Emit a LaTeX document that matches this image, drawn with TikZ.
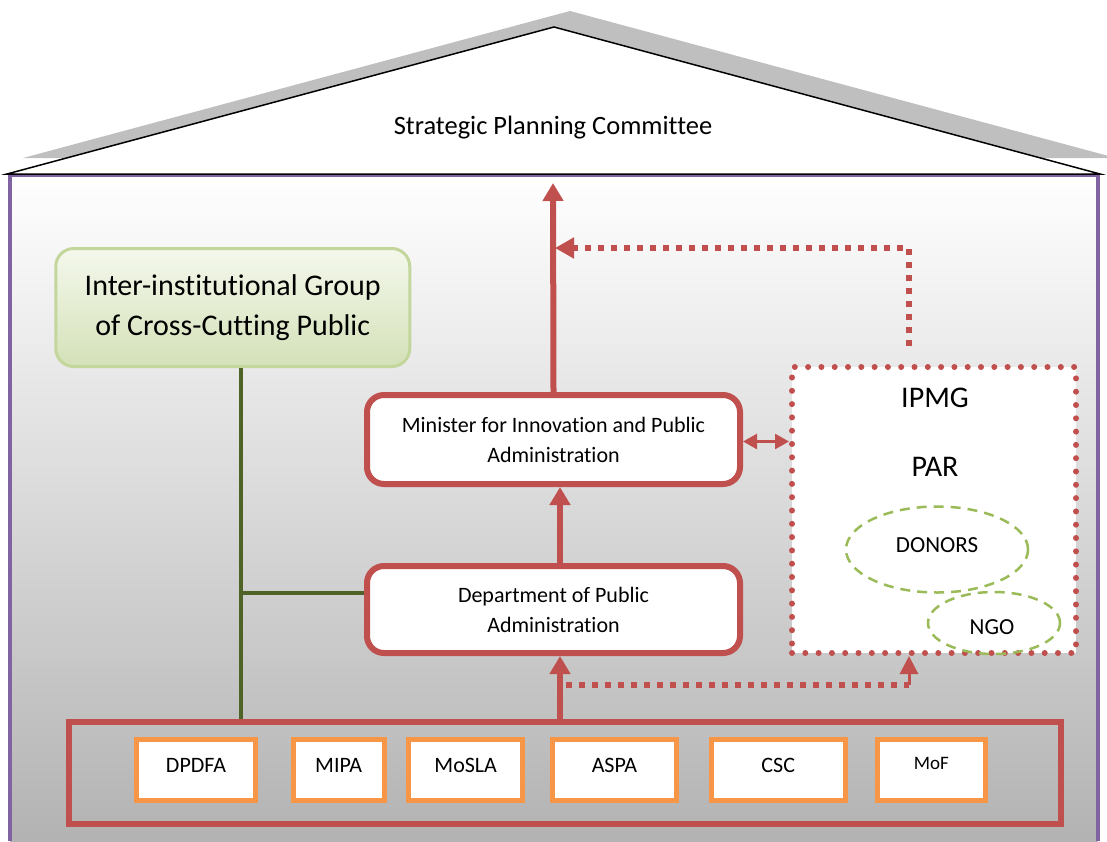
\documentclass[tikz,border=0pt]{standalone}
\usepackage{fontspec}
\setmainfont{Carlito}[Ligatures={NoCommon,NoContextual,NoRare},Contextuals=NoAlternate,RawFeature={-liga;-clig;-calt}]
\usetikzlibrary{arrows.meta,positioning,shapes.geometric}
\definecolor{boxred}{HTML}{C0504D}
\definecolor{boxorange}{HTML}{F79646}
\definecolor{housepurple}{HTML}{8064A2}
\definecolor{ovalgreen}{HTML}{9BBB59}
\definecolor{trunkgreen}{HTML}{4F6228}
\definecolor{grpedge}{HTML}{C3D69B}
\definecolor{grptop}{HTML}{F4F8EC}
\definecolor{grpbot}{HTML}{D4E1B8}
\tikzset{
  redbox/.style={draw=boxred, line width=6pt, fill=white, rounded corners=17pt,
    minimum width=373pt, minimum height=89pt, align=center,
    font=\fontsize{22}{30}\selectfont},
  orgbox/.style={draw=boxorange, line width=5pt, fill=white, minimum height=61pt,
    text height=14pt, text depth=10pt, font=\fontsize{22}{26}\selectfont},
  oval/.style={ellipse, draw=ovalgreen, line width=2.5pt, dash pattern=on 10pt off 7pt,
    font=\fontsize{23}{26}\selectfont},
  redarrow/.style={draw=boxred, line width=6pt, -{Triangle[length=18pt,width=20pt]}},
  sqdots/.style={draw=boxred, line width=6pt, dash pattern=on 6pt off 7pt},
  rddots/.style={draw=boxred, line width=6pt, line cap=round, dash pattern=on 0pt off 13.3pt},
  greenline/.style={draw=trunkgreen, line width=4.5pt}
}
\begin{document}
\begin{tikzpicture}[x=1pt,y=-1pt]
    \useasboundingbox (0,0) rectangle (1107,841);
    \shade[top color=white, bottom color=black!30] (10,175) rectangle (1098,841);
    \draw[housepurple, line width=4pt] (10,841) -- (10,175) -- (1098,175) -- (1098,841);
    \fill[black!25] (23,158) -- (570,11) -- (1116,158) -- cycle;
    \filldraw[fill=white, draw=black, line width=1.5pt] (7,174) -- (554,27) -- (1100,174) -- cycle;
    \node[font=\fontsize{26.5}{30}\selectfont] (spc) at (553,128) {Strategic Planning Committee};
    \coordinate (spctip) at (553,183);

    \node[draw=grpedge, line width=3pt, rounded corners=18pt, top color=grptop, bottom color=grpbot,
      minimum width=354pt, minimum height=118pt, align=center,
      font=\fontsize{30}{40}\selectfont] (iigroup) at (232.75,307.5)
      {Inter-institutional Group\\of Cross-Cutting Public};

    \node[redbox] (minister) at (553.5,439.5) {Minister for Innovation and Public\\Administration};
    \node[redbox, minimum height=87pt] (dept) at (553.5,609.5) {Department of Public\\Administration};

    \node[rddots, fill=white, minimum width=284pt, minimum height=286pt] (ipmg) at (934,510) {};
    \node[font=\fontsize{30}{34}\selectfont] (ipmglbl) at (935,398) {IPMG};
    \node[font=\fontsize{30}{34}\selectfont] (parlbl) at (935,467) {PAR};
    \node[oval, minimum width=182pt, minimum height=86pt] (donors) at (937,549.5) {};
    \node[font=\fontsize{23}{26}\selectfont] at (937,545) {DONORS};
    \node[oval, minimum width=132pt, minimum height=62pt] (ngo) at (994,623) {};
    \node[font=\fontsize{23}{26}\selectfont] at (992,627) {NGO};

    \node[draw=boxred, line width=6pt, minimum width=992pt, minimum height=102pt] (inst) at (565,773) {};
    \foreach \name/\lbl/\x/\w in {dpdfa/DPDFA/196/119, mipa/MIPA/338.6/91, mosla/MoSLA/465.7/114,
        aspa/ASPA/614.4/124, csc/CSC/778.2/134}
      \node[orgbox, minimum width=\w pt] (\name) at (\x,770) {\lbl};
    \node[orgbox, minimum width=108pt, font=\fontsize{19}{22}\selectfont, text height=12pt, text depth=14pt]
      (mof) at (931.3,770) {MoF};

    \coordinate (trunk) at (241,593);
    \draw[greenline] ([xshift=8.25pt]iigroup.south) -- (trunk |- inst.north);
    \draw[greenline] (trunk) -- (trunk -| dept.west);

    \draw[redarrow] (minister.north) -- (spctip);
    \draw[redarrow] ([xshift=6.5pt]dept.north) -- ([xshift=6.5pt]minister.south);
    \draw[redarrow] ([xshift=6.5pt]dept.south |- inst.north) -- ([xshift=6.5pt]dept.south);
    \draw[boxred, line width=2.5pt, {Triangle[length=14pt,width=15pt]}-{Triangle[length=14pt,width=15pt]}]
      ([yshift=-2pt]minister.east) -- ([yshift=-2pt]minister.east -| ipmg.west);

    \coordinate (fb1) at (909,346);
    \coordinate (fb2) at (566,685);
    \draw[sqdots, -{Triangle[length=19pt,width=20pt]}] (fb1) |- (555,248);
    \draw[sqdots] (fb2) -- (fb2 -| fb1);
    \draw[boxred, line width=3pt, -{Triangle[length=18pt,width=18pt]}] (fb2 -| fb1) -- (fb1 |- ipmg.south);
\end{tikzpicture}
\end{document}
